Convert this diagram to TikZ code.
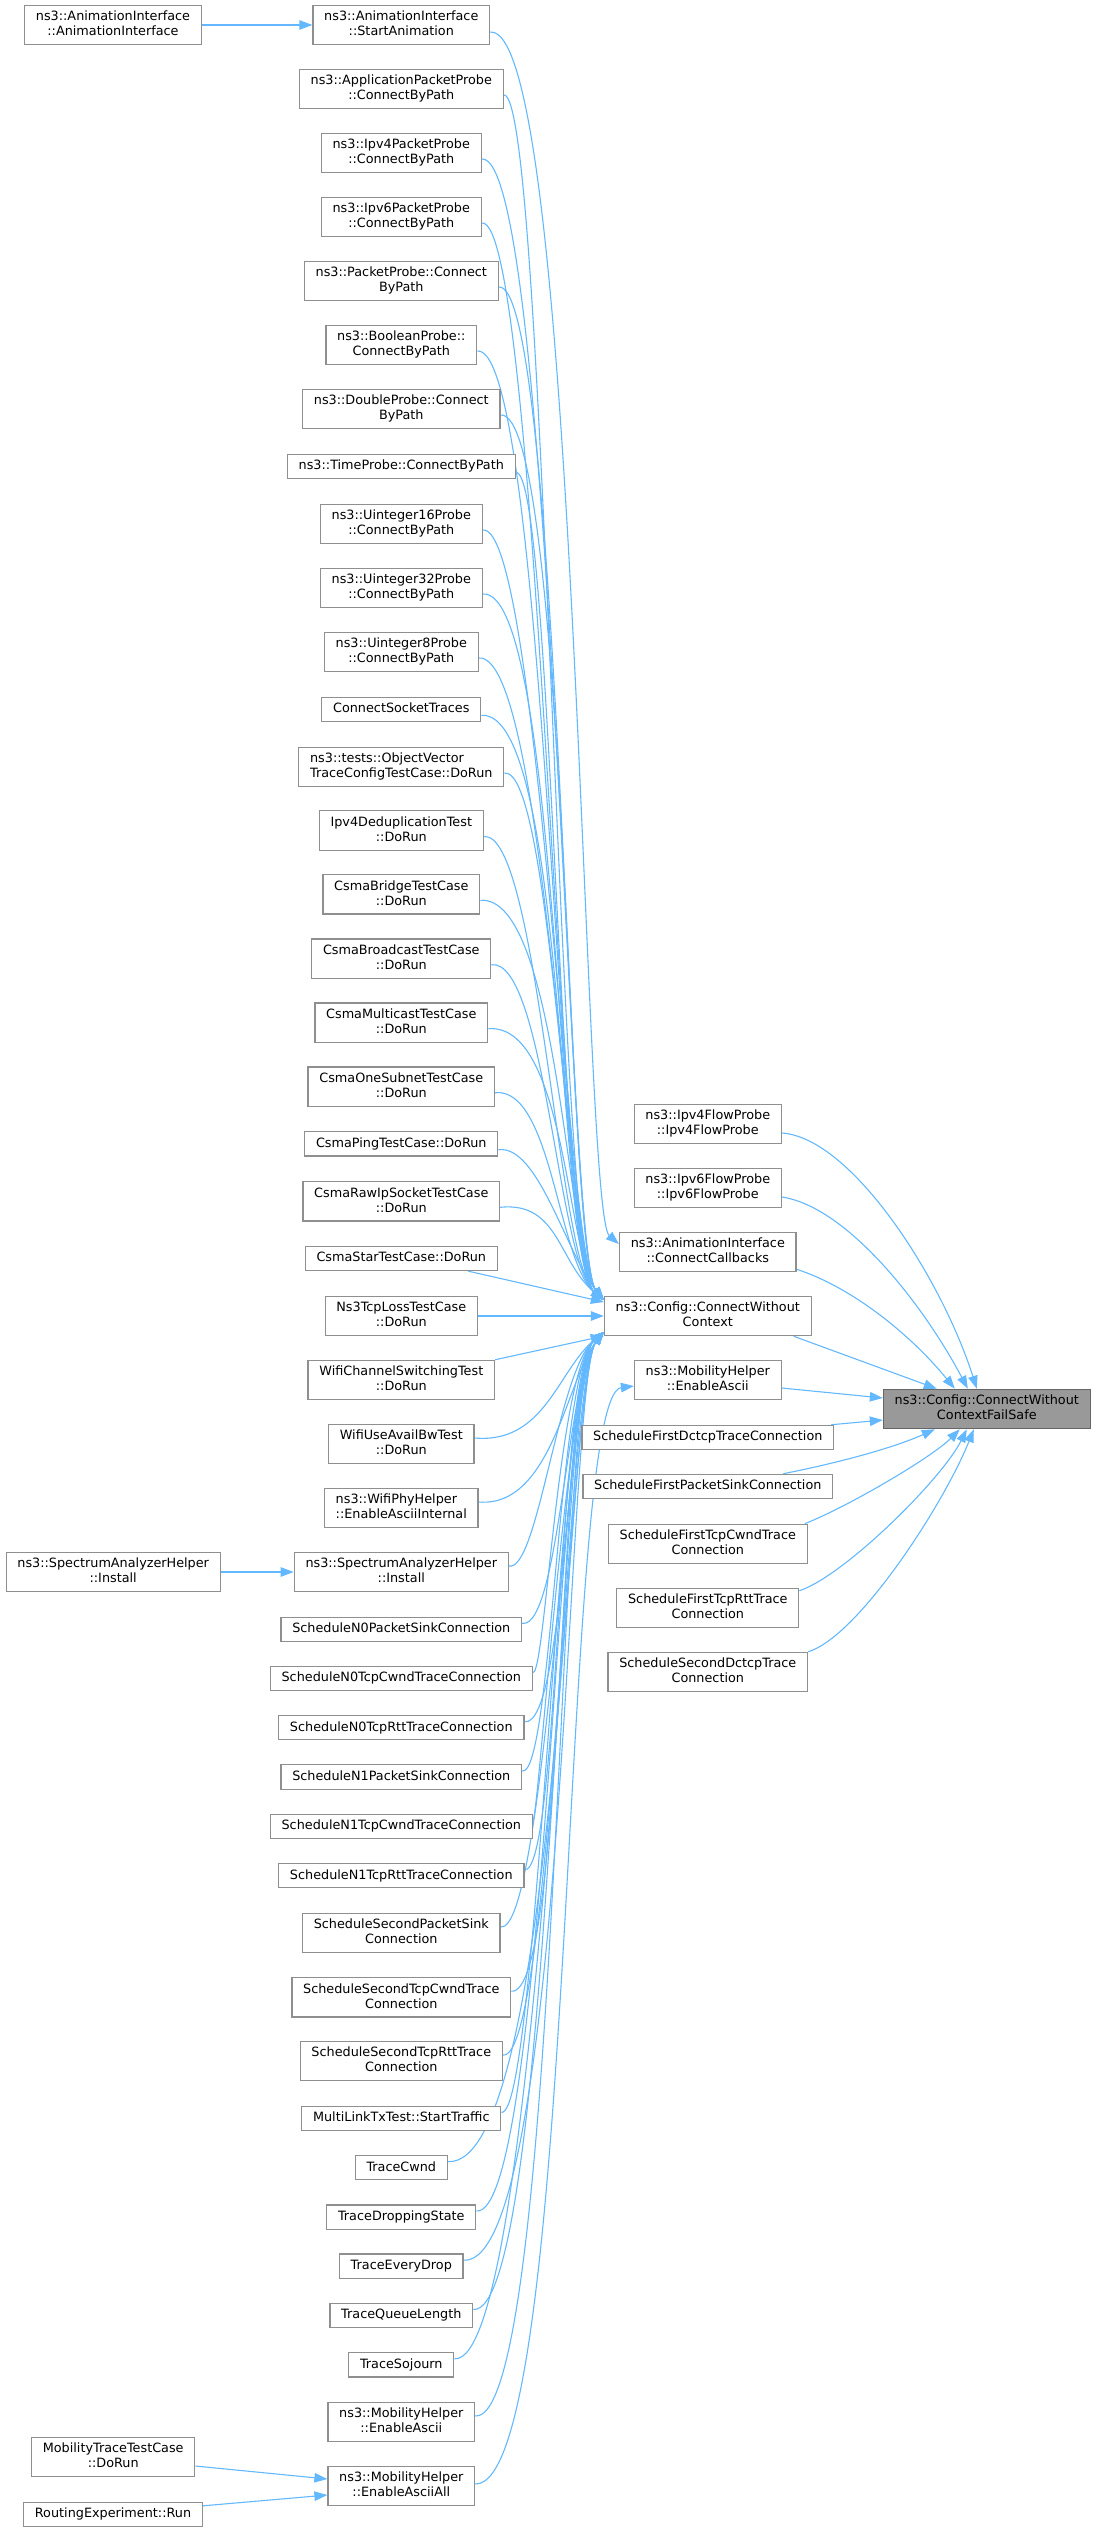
\documentclass[tikz,border=0pt]{standalone}
\usepackage{fontspec}
\setmainfont{DejaVu Sans}
\usetikzlibrary{arrows.meta}
\definecolor{edgeblue}{HTML}{63B8FF}
\definecolor{boxline}{HTML}{8F8F8F}
\definecolor{fsfill}{HTML}{999999}
\definecolor{fsline}{HTML}{666666}
\newcommand\ta{\rule{0pt}{10pt}}
\newcommand\tb{\rule[-3.1pt]{0pt}{3.1pt}}
\pgfdeclarelayer{bg}
\pgfsetlayers{bg,main}
\tikzset{
  box/.style={draw=boxline, fill=white, line width=1.25pt, inner xsep=11.25pt, inner ysep=5.6pt,
    font=\fontsize{12.8}{15}\selectfont, align=center},
  lbox/.style={box, align=left},
  fsbox/.style={box, fill=fsfill, draw=fsline},
  edge/.style={draw=edgeblue, line width=1.1pt, -{Triangle[length=13pt,width=9.5pt]}},
}
\begin{document}
\begin{tikzpicture}[x=1pt,y=-1pt]
\useasboundingbox (0,0) rectangle (1096,2532);
% ---------- far left ----------
\node[box] (aia) at (113,25) {\ta ns3::AnimationInterface\\::AnimationInterface\tb};
\node[box] (lsah) at (113.2,1572) {\ta ns3::SpectrumAnalyzerHelper\\::Install\tb};
\node[box] (mtt) at (113.2,2457) {\ta MobilityTraceTestCase\\::DoRun\tb};
\node[box] (rer) at (113,2514.3) {\ta RoutingExperiment::Run\tb};
% ---------- main column ----------
\node[box] (sa) at (401.3,25) {\ta ns3::AnimationInterface\\::StartAnimation\tb};
\node[box] (app) at (401.3,89) {\ta ns3::ApplicationPacketProbe\\::ConnectByPath\tb};
\node[box] (ip4p) at (401.3,153) {\ta ns3::Ipv4PacketProbe\\::ConnectByPath\tb};
\node[box] (ip6p) at (401.3,217) {\ta ns3::Ipv6PacketProbe\\::ConnectByPath\tb};
\node[box] (pp) at (401.3,281) {\ta ns3::PacketProbe::Connect\\ByPath\tb};
\node[box] (bp) at (401.3,345) {\ta ns3::BooleanProbe::\\ConnectByPath\tb};
\node[box] (dp) at (401.3,409) {\ta ns3::DoubleProbe::Connect\\ByPath\tb};
\node[box] (tp) at (401.3,466.5) {\ta ns3::TimeProbe::ConnectByPath\tb};
\node[box] (u16) at (401.3,524) {\ta ns3::Uinteger16Probe\\::ConnectByPath\tb};
\node[box] (u32) at (401.3,588) {\ta ns3::Uinteger32Probe\\::ConnectByPath\tb};
\node[box] (u8) at (401.3,652) {\ta ns3::Uinteger8Probe\\::ConnectByPath\tb};
\node[box] (cst) at (401.3,709.3) {\ta ConnectSocketTraces\tb};
\node[lbox] (ovt) at (401.3,767) {\ta ns3::tests::ObjectVector\\TraceConfigTestCase::DoRun\tb};
\node[box] (dedup) at (401.3,830.5) {\ta Ipv4DeduplicationTest\\::DoRun\tb};
\node[box] (cbridge) at (401.3,894.3) {\ta CsmaBridgeTestCase\\::DoRun\tb};
\node[box] (cbcast) at (401.3,958.7) {\ta CsmaBroadcastTestCase\\::DoRun\tb};
\node[box] (cmcast) at (401.3,1022.7) {\ta CsmaMulticastTestCase\\::DoRun\tb};
\node[box] (cone) at (401.3,1086.7) {\ta CsmaOneSubnetTestCase\\::DoRun\tb};
\node[box] (cping) at (401.3,1143.8) {\ta CsmaPingTestCase::DoRun\tb};
\node[box] (craw) at (401.3,1201.3) {\ta CsmaRawIpSocketTestCase\\::DoRun\tb};
\node[box] (cstar) at (401.3,1258.3) {\ta CsmaStarTestCase::DoRun\tb};
\node[box] (tcploss) at (401.3,1316) {\ta Ns3TcpLossTestCase\\::DoRun\tb};
\node[box] (wcs) at (401.3,1380) {\ta WifiChannelSwitchingTest\\::DoRun\tb};
\node[box] (wuab) at (401.3,1444) {\ta WifiUseAvailBwTest\\::DoRun\tb};
\node[lbox] (wph) at (401.3,1508) {\ta ns3::WifiPhyHelper\\::EnableAsciiInternal\tb};
\node[box] (sah) at (401.3,1572) {\ta ns3::SpectrumAnalyzerHelper\\::Install\tb};
\node[box] (n0ps) at (401.3,1629.3) {\ta ScheduleN0PacketSinkConnection\tb};
\node[box] (n0cw) at (401.3,1678.3) {\ta ScheduleN0TcpCwndTraceConnection\tb};
\node[box] (n0rtt) at (401.3,1727.7) {\ta ScheduleN0TcpRttTraceConnection\tb};
\node[box] (n1ps) at (401.3,1777) {\ta ScheduleN1PacketSinkConnection\tb};
\node[box] (n1cw) at (401.3,1826.3) {\ta ScheduleN1TcpCwndTraceConnection\tb};
\node[box] (n1rtt) at (401.3,1875.7) {\ta ScheduleN1TcpRttTraceConnection\tb};
\node[box] (s2ps) at (401.3,1933) {\ta ScheduleSecondPacketSink\\Connection\tb};
\node[box] (s2cw) at (401.3,1997.2) {\ta ScheduleSecondTcpCwndTrace\\Connection\tb};
\node[box] (s2rtt) at (401.3,2061) {\ta ScheduleSecondTcpRttTrace\\Connection\tb};
\node[box] (mltx) at (401.3,2118.3) {\ta MultiLinkTxTest::StartTraffic\tb};
\node[box] (tcwnd) at (401.3,2167.6) {\ta TraceCwnd\tb};
\node[box] (tds) at (401.3,2217) {\ta TraceDroppingState\tb};
\node[box] (ted) at (401.3,2266.2) {\ta TraceEveryDrop\tb};
\node[box] (tql) at (401.3,2315.5) {\ta TraceQueueLength\tb};
\node[box] (tsj) at (401.3,2364.8) {\ta TraceSojourn\tb};
\node[box] (mea) at (401.3,2422) {\ta ns3::MobilityHelper\\::EnableAscii\tb};
\node[box] (meaa) at (401.3,2486) {\ta ns3::MobilityHelper\\::EnableAsciiAll\tb};
% ---------- right column ----------
\node[box] (ip4fp) at (707.8,1124) {\ta ns3::Ipv4FlowProbe\\::Ipv4FlowProbe\tb};
\node[box] (ip6fp) at (707.8,1188) {\ta ns3::Ipv6FlowProbe\\::Ipv6FlowProbe\tb};
\node[box] (ccb) at (707.8,1252) {\ta ns3::AnimationInterface\\::ConnectCallbacks\tb};
\node[box] (cwc) at (707.8,1316) {\ta ns3::Config::ConnectWithout\\Context\tb};
\node[box] (rea) at (707.8,1380) {\ta ns3::MobilityHelper\\::EnableAscii\tb};
\node[box] (f1d) at (707.8,1437.5) {\ta ScheduleFirstDctcpTraceConnection\tb};
\node[box] (f1ps) at (707.8,1486.5) {\ta ScheduleFirstPacketSinkConnection\tb};
\node[box] (f1cw) at (707.8,1544) {\ta ScheduleFirstTcpCwndTrace\\Connection\tb};
\node[box] (f1rtt) at (707.8,1608) {\ta ScheduleFirstTcpRttTrace\\Connection\tb};
\node[box] (s2d) at (707.8,1672) {\ta ScheduleSecondDctcpTrace\\Connection\tb};
% ---------- target ----------
\node[fsbox] (fs) at (986.8,1409) {\ta ns3::Config::ConnectWithout\\ContextFailSafe\tb};
% ---------- helper coordinates for control points ----------
\coordinate (xa) at (538,0);
\coordinate (xb) at (545,0);
\coordinate (xc) at (552,0);
\coordinate (xd) at (559,0);
\coordinate (xe) at (566,0);
\coordinate (ua) at (558,1262);
\coordinate (ub) at (567,1255);
\coordinate (la) at (558,1370);
\coordinate (lb) at (567,1378);
\coordinate (cc) at (582,1212);
\coordinate (rc) at (560,1395);
\coordinate (xr) at (578,0);
% ---------- edges ----------
\begin{pgfonlayer}{bg}
\draw[edge] (aia.east) -- (sa.west);
\draw[edge] (lsah.east) -- (sah.west);
\draw[edge] ([yshift=-9pt]mtt.east) -- ([yshift=7pt]meaa.west);
\draw[edge] ([yshift=8.5pt]rer.east) -- ([yshift=-9pt]meaa.west);
\draw[edge] ([yshift=-7pt]sa.east) .. controls (sa.east -| xr) and (cc) .. ([yshift=8pt]ccb.west);
\foreach \n/\X/\C in {app/xb/ua, ip4p/xc/ub, ip6p/xa/ua, pp/xd/ub, bp/xb/ua, dp/xe/ub,
   tp/xc/ua, u16/xa/ub, u32/xd/ua, u8/xb/ub, cst/xe/ua, ovt/xc/ub, dedup/xa/ua,
   cbridge/xd/ub, cbcast/xb/ua, cmcast/xe/ub, cone/xc/ua, cping/xa/ub, craw/xd/ua}{
  \draw[edge] ([yshift=-6pt]\n.east) .. controls (\n.east -| \X) and (\C) .. ([yshift=16pt]cwc.west);
}
\draw[edge] ([xshift=-30pt]cstar.south east) -- ([yshift=14pt]cwc.west);
\draw[edge] (tcploss.east) -- (cwc.west);
\draw[edge] (wcs.north east) -- ([yshift=-20pt]cwc.west);
\foreach \n/\X/\C in {wuab/xb/la, wph/xc/lb, sah/xa/la, n0ps/xd/lb, n0cw/xb/la, n0rtt/xe/lb,
   n1ps/xc/la, n1cw/xa/lb, n1rtt/xd/la, s2ps/xb/lb, s2cw/xe/la, s2rtt/xc/lb, mltx/xa/la,
   tcwnd/xd/lb, tds/xb/la, ted/xe/lb, tql/xc/la, tsj/xa/lb, mea/xd/la}{
  \draw[edge] ([yshift=6pt]\n.east) .. controls (\n.east -| \X) and (\C) .. ([yshift=-16pt]cwc.west);
}
\draw[edge] ([yshift=2pt]meaa.east) .. controls (meaa.east -| xr) and (rc) .. ([yshift=-6pt]rea.west);
% right column to target
\draw[edge] ([yshift=-9pt]ip4fp.east) .. controls +(70,5) and +(-35,-110) .. ([xshift=-10pt]fs.north);
\draw[edge] ([yshift=-9pt]ip6fp.east) .. controls +(65,10) and +(-45,-85) .. ([xshift=-19pt]fs.north);
\draw[edge] ([yshift=3pt]ccb.south east) .. controls +(55,18) and +(-45,-55) .. ([xshift=-32pt]fs.north);
\draw[edge] ([xshift=-18pt]cwc.south east) -- ([xshift=-50pt]fs.north);
\draw[edge] ([yshift=-8pt]rea.east) -- ([yshift=11pt]fs.west);
\draw[edge] ([xshift=-3pt]f1d.north east) -- ([yshift=-11pt]fs.west);
\draw[edge] ([xshift=-50pt]f1ps.north east) .. controls +(60,-12) and +(-40,18) .. ([xshift=-52pt]fs.south);
\draw[edge] ([xshift=-3pt]f1cw.north east) .. controls +(45,-18) and +(-28,28) .. ([xshift=-27pt]fs.south);
\draw[edge] ([yshift=-3pt]f1rtt.north east) .. controls +(45,-15) and +(-25,50) .. ([xshift=-20pt]fs.south);
\draw[edge] (s2d.north east) .. controls +(50,-15) and +(-30,75) .. ([xshift=-13pt]fs.south);
\end{pgfonlayer}
\end{tikzpicture}
\end{document}
